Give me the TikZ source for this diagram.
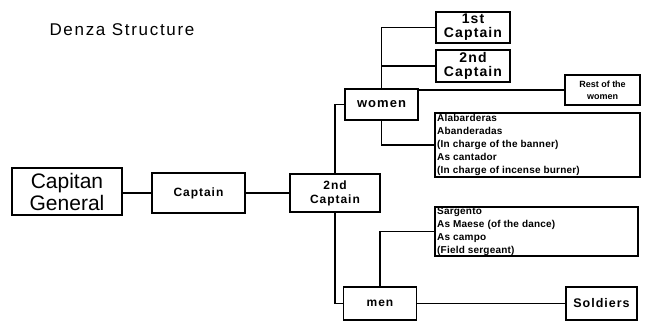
\documentclass[tikz,border=0pt]{standalone}
\usepackage{fontspec}
\setmainfont{Liberation Sans}
\newfontfamily\widefont[LetterSpace=8]{Liberation Sans}
\newfontfamily\listfont[LetterSpace=2]{Liberation Sans}
\newfontfamily\titlefont[LetterSpace=10]{Liberation Sans}
\begin{document}
\begin{tikzpicture}[x=1pt,y=-1pt,
  box/.style={draw,line width=1.8pt,inner sep=0pt,align=center},
  conn/.style={line width=1.8pt},
  listtext/.style={anchor=north west,align=left,inner sep=0pt,font=\listfont\bfseries\fontsize{10}{13}\selectfont}]
\useasboundingbox (0,0) rectangle (645,328);
\node (title) at (122,30) {\titlefont\fontsize{17}{18}\selectfont Denza Structure};
\node[box,minimum width=110pt,minimum height=47pt,font=\fontsize{21}{22}\selectfont] (cg) at (67,191.5) {Capitan\\General};
\node[box,minimum width=93pt,minimum height=40pt,font=\widefont\bfseries\fontsize{12}{14}\selectfont] (cap) at (198.5,193) {Captain};
\node[box,minimum width=90pt,minimum height=38pt,font=\widefont\bfseries\fontsize{12}{14}\selectfont] (cap2) at (335,193) {2nd\\Captain};
\node[box,minimum width=73pt,minimum height=31pt,font=\widefont\bfseries\fontsize{13}{15}\selectfont] (women) at (381.5,104.5) {women};
\node[box,minimum width=73pt,minimum height=33pt,font=\widefont\bfseries\fontsize{12}{14}\selectfont] (men) at (380,303.5) {men};
\node[box,minimum width=74pt,minimum height=31pt,font=\widefont\bfseries\fontsize{14}{14}\selectfont] (c1) at (473,27.5) {1st\\Captain};
\node[box,minimum width=74pt,minimum height=32pt,font=\widefont\bfseries\fontsize{14}{14}\selectfont] (c2) at (473,66) {2nd\\Captain};
\node[box,minimum width=75pt,minimum height=30pt,font=\bfseries\fontsize{9}{12}\selectfont] (rest) at (602.5,90) {Rest of the\\women};
\node[box,minimum width=205pt,minimum height=64pt] (list1) at (537.5,145) {};
\node[listtext] (list1t) at (437,114) {Alabarderas\\Abanderadas\\(In charge of the banner)\\As cantador\\(In charge of incense burner)};
\node[box,minimum width=203pt,minimum height=49pt] (list2) at (536.5,231.5) {};
\node[listtext] (list2t) at (437,207) {Sargento\\As Maese (of the dance)\\As campo\\(Field sergeant)};
\node[box,minimum width=71pt,minimum height=33pt,font=\widefont\bfseries\fontsize{12.5}{14}\selectfont] (sold) at (601.5,303.5) {Soldiers};
\draw[conn] (cap.west) -- (cap.west -| cg.east);
\draw[conn] (cap.east) -- (cap2.west);
\draw[conn] (cap2.north) |- (women.west);
\draw[conn] (cap2.south) |- (men.west);
\draw[conn] (women.north) |- (c1.west);
\draw[conn] (women.north) |- (c2.west);
\draw[conn] (rest.west) -- (rest.west -| women.east);
\draw[conn] (women.south) |- (list1.west);
\draw[conn] (men.north) |- (list2.west);
\draw[conn] (men.east) -- (sold.west);
\end{tikzpicture}
\end{document}
